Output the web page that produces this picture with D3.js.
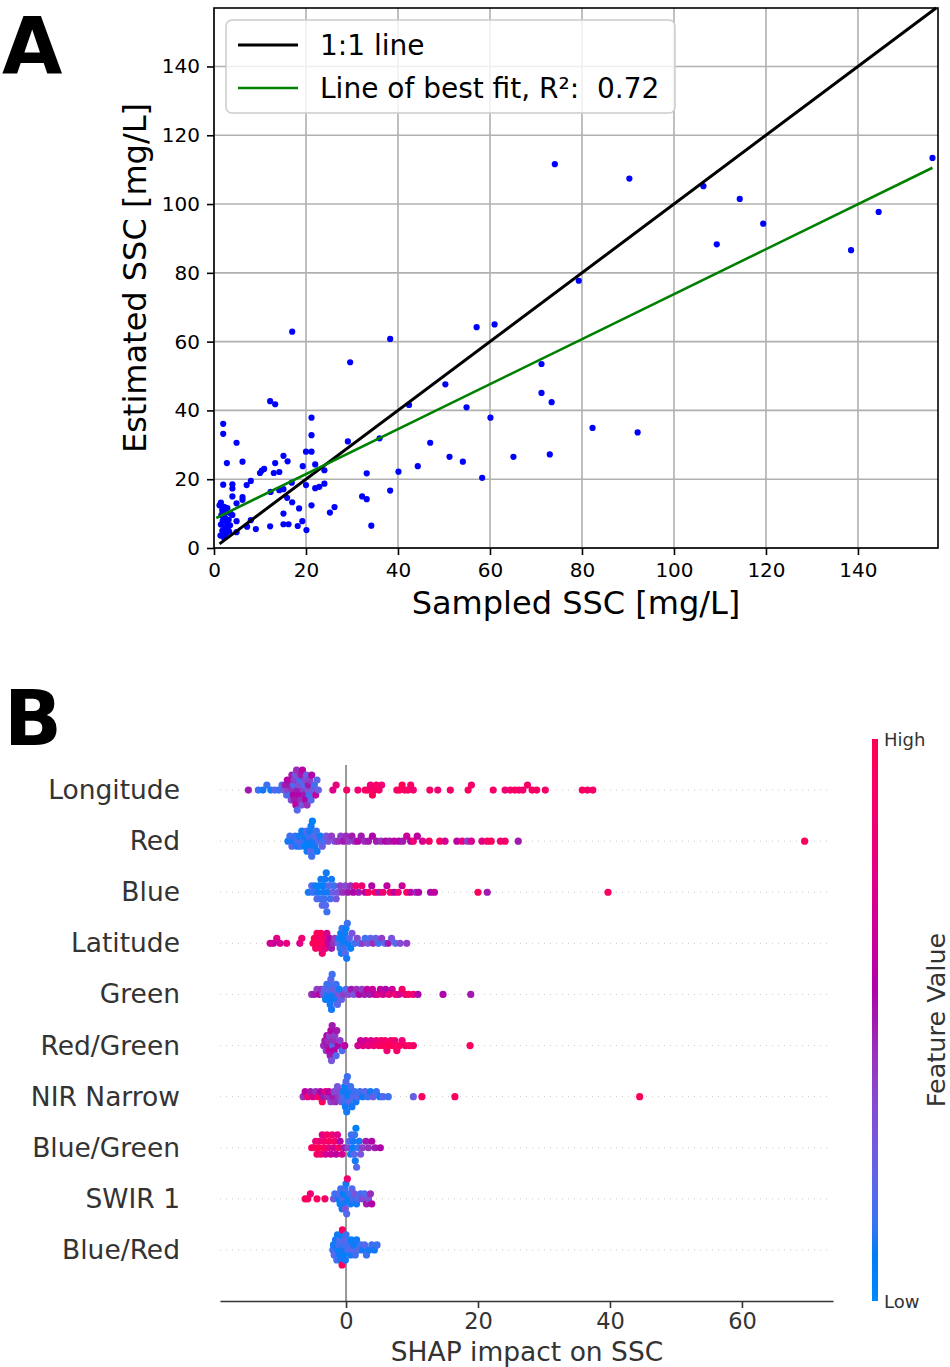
<!DOCTYPE html>
<html><head><meta charset="utf-8">
<script src="https://cdn.jsdelivr.net/npm/d3@7"></script>
<style>
body{margin:0;background:#fff}
svg{display:block}
text{font-family:"DejaVu Sans",sans-serif}
</style></head>
<body><svg id="c" width="950" height="1367"></svg>
<script>
// ---------------- Panel A data ----------------
const scatterPoints = [
[74.1,111.6],[90.3,107.4],[106.4,105.2],[114.3,101.5],[119.4,94.3],[109.3,88.3],[138.5,86.6],[144.5,97.7],[156.2,113.4],[79.3,77.7],
[71.2,53.5],[71.2,45.1],[73.4,42.4],[82.3,34.9],[92.1,33.6],
[17.0,62.9],[38.3,60.8],[57.1,64.2],[61.0,65.0],[29.6,54.0],[50.3,47.6],[12.2,42.7],[13.3,41.8],[42.4,41.6],[54.9,40.9],[60.1,37.9],
[2.0,36.1],[2.0,33.2],[21.2,37.9],[21.2,32.8],[4.9,30.6],[29.1,31.0],[36.0,31.9],[47.0,30.6],[20.0,28.0],[21.2,28.0],[15.1,26.8],[16.0,25.2],[6.2,25.1],[2.8,24.7],[13.3,24.7],[19.3,23.8],[22.0,24.3],[10.9,23.0],[10.4,22.5],[10.0,21.8],[13.0,21.8],[14.2,22.1],[24.0,22.6],[33.2,21.7],[40.1,22.2],[44.3,23.8],[51.2,26.5],[54.1,25.1],[65.1,26.5],[73.0,27.2],[58.3,20.4],
[2.0,18.4],[4.0,18.5],[4.0,17.3],[6.2,14.8],[6.2,14.0],[4.0,15.0],[7.1,18.3],[8.0,19.5],[12.3,16.3],[14.2,16.8],[15.1,17.1],[16.9,19.0],[20.0,18.3],[22.0,17.4],[22.9,17.8],[24.0,18.7],[32.2,15.0],[33.2,14.2],[38.3,16.7],[21.2,12.4],[25.2,10.3],[26.2,11.9],[34.2,6.5],[15.1,10.0],[20.1,5.2],[18.2,6.4],[19.2,7.8],[15.1,6.9],[16.2,6.9],[12.2,6.3],[9.1,5.5],[7.2,6.2],[8.0,8.1],[4.9,7.8],[4.9,4.6],[4.0,9.6],[4.9,13.0],[15.9,14.6],[17.0,13.3],[18.5,11.5],
[1.5,13.2],[2.2,12.0],[1.8,11.0],[2.6,10.4],[1.6,9.6],[2.4,8.8],[1.9,8.0],[2.8,7.4],[1.5,6.8],[2.3,6.0],[3.0,5.5],[1.8,5.0],[2.6,4.2],[1.4,3.6],[2.2,3.0],[3.2,8.2],[3.5,6.6],[3.3,4.8],[1.2,12.4],[2.9,11.6],[3.6,10.0]
];
const axisMaxA = [157.4, 157.0];
const xTicksA = [0,20,40,60,80,100,120,140];
const yTicksA = [0,20,40,60,80,100,120,140];
const oneToOneRange = [1.2, 157.0];
const fitRange = [0.5, 156.2];
const fitIntercept = 8.4;
const fitSlope = 0.654;
const fitR2 = "0.72";

// ---------------- Panel B data ----------------
const features = ["Longitude","Red","Blue","Latitude","Green","Red/Green","NIR Narrow","Blue/Green","SWIR 1","Blue/Red"];
const xTicksB = [0,20,40,60];
const xDomainB = [-19.1, 73.8];
// each entry: [SHAP value, normalised feature value (0 = low, 1 = high)]
const shapLongitude = [
[-14.8,.5],[-13.3,.15],[-12.6,.1],[-12.0,.15],[-11.4,.1],[-10.8,.2],[-10.2,.15],[-9.7,.2],
[-9.4,.3],[-9.2,.5],[-9.0,.2],[-8.9,.55],[-8.8,.4],[-8.6,.5],[-8.5,.15],[-8.4,.6],[-8.3,.35],[-8.2,.5],[-8.1,.45],[-8.0,.2],[-8.0,.55],[-7.9,.4],[-7.8,.5],[-7.7,.3],[-7.6,.6],[-7.5,.45],[-7.4,.2],[-7.3,.5],[-7.2,.35],[-7.1,.55],[-7.0,.15],[-6.9,.45],[-6.8,.5],[-6.7,.3],[-6.6,.6],[-6.5,.4],[-6.4,.2],[-6.3,.5],[-6.2,.35],[-6.1,.55],[-6.0,.25],[-5.9,.45],[-5.8,.3],[-5.7,.5],[-5.6,.15],[-5.5,.4],[-5.3,.2],[-5.2,.55],[-5.0,.3],[-4.8,.15],[-4.6,.6],[-4.4,.2],[-4.2,.25],
[-2.0,.75],[-1.5,.8],[0.1,.9],[1.8,.85],[2.9,.9],[3.3,.95],[3.7,.85],[4.0,1],[4.3,.9],[4.6,.95],[5.0,.9],[5.4,.85],[7.7,.9],[8.1,.95],[8.5,1],[8.9,.9],[9.4,.95],[9.8,.9],[10.2,.85],[12.7,.9],[13.9,.85],[15.8,.9],[18.5,.95],[19.0,.9],[22.3,.9],[24.1,.85],[24.9,.9],[25.6,.95],[26.2,.9],[26.8,.85],[27.5,.9],[28.2,.95],[28.9,.9],[30.2,.9],[35.8,.95],[36.6,.9],[37.4,.9]
];
const shapRed = [
[-8.8,.1],[-8.5,.15],[-8.2,.2],[-8.0,.1],[-7.7,.15],[-7.4,.1],[-7.3,.2],[-7.1,.1],[-6.9,.15],[-6.7,.1],[-6.5,.15],[-6.4,.1],[-6.2,.05],[-6.0,.2],[-5.9,.1],
[-5.8,.1],[-5.7,.15],[-5.6,.05],[-5.5,.1],[-5.4,.2],[-5.3,.1],[-5.2,.15],[-5.1,.05],[-5.0,.1],[-4.8,.2],[-4.7,.1],[-4.5,.15],[-4.4,.1],[-4.2,.2],[-3.9,.1],[-3.6,.25],[-3.4,.15],[-3.0,.3],
[-2.7,.3],[-2.2,.4],[-1.7,.35],[-1.2,.45],[-0.8,.4],[-0.4,.5],[0,.45],[0.4,.4],[0.9,.5],[1.3,.45],[1.8,.55],[2.3,.5],[2.8,.45],[3.4,.5],[4.0,.55],[4.6,.5],[5.3,.45],[6.0,.55],[6.6,.5],[7.3,.6],[8.0,.55],[8.6,.5],[9.2,.65],[9.8,.55],[10.2,.85],[10.8,.6],[11.6,.7],[12.6,.9],[14.2,.95],[15.0,.7],[16.8,.6],[17.6,.8],[18.4,.4],[19.0,.7],[20.6,.75],[21.4,.9],[22.0,.95],[23.4,.85],[24.1,.9],[26.1,.5],[69.5,.95]
];
const shapBlue = [
[-5.7,.1],[-5.2,.2],[-5.0,.15],[-4.7,.1],[-4.4,.2],[-4.3,.1],[-4.1,.05],[-3.9,.15],[-3.8,.1],[-3.6,.2],
[-3.5,.1],[-3.4,.05],[-3.3,.15],[-3.2,.1],[-3.1,.2],[-3.0,.1],[-2.9,.15],[-2.8,.1],[-2.6,.2],[-2.4,.15],[-2.2,.1],[-2.0,.25],[-1.8,.15],[-1.5,.3],
[-1.2,.3],[-0.9,.4],[-0.5,.45],[-0.1,.35],[0.3,.5],[0.7,.45],[1.1,.55],[1.5,.9],[1.9,.5],[2.4,.85],[2.9,.6],[3.4,.9],[3.9,.55],[4.4,.95],[5.0,.5],[5.6,.85],[6.2,.6],[6.7,.9],[7.3,.55],[7.9,.85],[8.5,.65],[9.2,.95],[9.8,.6],[10.6,.45],[11.0,.55],[12.8,.55],[13.4,.6],[20.0,.95],[21.4,.5],[39.7,.95]
];
const shapLatitude = [
[-11.5,.7],[-11.0,.65],[-10.5,.75],[-10.0,.7],[-9.0,.8],[-7.0,.75],[-6.7,.85],
[-5.0,.95],[-4.8,1],[-4.6,.9],[-4.4,.95],[-4.3,1],[-4.1,.9],[-3.9,.95],[-3.8,1],[-3.6,.85],[-3.5,.95],[-3.3,.9],[-3.1,.8],[-2.9,.7],[-2.7,.6],[-2.5,.55],[-2.2,.5],[-2.0,.45],[-1.7,.4],
[-1.2,.2],[-1.0,.1],[-0.9,.15],[-0.8,.05],[-0.7,.1],[-0.6,.15],[-0.5,.1],[-0.4,.05],[-0.3,.15],[-0.2,.1],[-0.1,.2],[0,.05],[0.1,.1],[0.2,.15],[0.3,.1],[0.5,.2],[0.7,.05],[0.9,.3],
[1.3,.15],[1.7,.35],[2.1,.2],[2.5,.4],[2.9,.15],[3.3,.3],[3.7,.2],[4.1,.45],[4.5,.25],[4.9,.15],[5.4,.4],[5.9,.2],[6.4,.5],[6.9,.3],[7.5,.2],[8.2,.35],[9.2,.4]
];
const shapGreen = [
[-5.2,.45],[-4.8,.5],[-4.4,.4],[-4.0,.55],[-3.7,.45],
[-3.5,.3],[-3.3,.2],[-3.1,.1],[-2.9,.15],[-2.8,.1],[-2.7,.2],[-2.6,.05],[-2.5,.15],[-2.4,.1],[-2.3,.2],[-2.2,.1],[-2.1,.15],[-2.0,.1],[-1.9,.25],[-1.7,.1],[-1.5,.15],[-1.3,.2],[-1.2,.3],[-1.0,.1],[-0.7,.25],
[-0.4,.4],[0,.2],[0.4,.35],[0.8,.5],[1.2,.3],[1.6,.45],[2.0,.55],[2.4,.4],[2.8,.5],[3.2,.6],[3.6,.5],[4.0,.65],[4.4,.55],[4.8,.75],[5.2,.6],[5.6,.7],[6.0,.55],[6.5,.8],[7.0,.65],[7.5,.85],[8.0,.7],[8.5,.9],[9.0,.8],[9.5,.95],[10.2,.85],[10.9,.55],[14.7,.55],[18.9,.5]
];
const shapRedGreen = [
[-3.4,.45],[-3.2,.5],[-3.0,.4],[-2.9,.55],[-2.8,.5],[-2.7,.45],[-2.6,.6],[-2.5,.4],[-2.4,.5],[-2.3,.55],[-2.2,.3],[-2.1,.5],[-2.0,.2],[-1.9,.45],[-1.8,.55],[-1.7,.4],[-1.5,.2],[-1.4,.5],[-1.2,.55],[-0.9,.4],[-0.6,.2],[-0.2,.6],
[1.8,.7],[2.2,.65],[2.6,.75],[3.0,.7],[3.4,.8],[3.8,.75],[4.2,.85],[4.6,.8],[5.0,.9],[5.3,.85],[5.6,.95],[5.9,.9],[6.2,.85],[6.5,1],[6.8,.9],[7.1,.95],[7.4,.85],[7.7,.9],[8.1,.95],[8.5,.85],[9.0,.9],[9.6,.95],[10.2,.9],[18.8,.95]
];
const shapNIR = [
[-6.5,.45],[-6.2,.6],[-5.8,.85],[-5.4,.5],[-5.0,.7],[-4.6,.45],[-4.2,.9],[-3.9,.55],[-3.6,.95],[-3.4,.5],[-3.1,.8],[-2.8,.45],[-2.6,.6],[-2.3,.4],[-2.0,.5],[-1.8,.35],[-1.6,.45],[-1.3,.3],[-1.1,.4],[-0.9,.35],[-0.7,.3],
[-0.5,.2],[-0.4,.1],[-0.3,.15],[-0.2,.05],[-0.1,.1],[0,.2],[0.1,.1],[0.2,.15],[0.3,.05],[0.4,.1],[0.5,.2],[0.7,.15],[0.9,.1],
[1.1,.2],[1.3,.15],[1.5,.1],[1.8,.2],[2.1,.15],[2.5,.1],[2.9,.2],[3.3,.15],[3.7,.1],[4.1,.25],[4.6,.15],[5.1,.1],[5.6,.2],[6.4,.15],[10.2,.25],[11.5,.95],[16.5,.95],[44.5,.95]
];
const shapBlueGreen = [
[-5.2,.9],[-4.9,.95],[-4.6,.8],[-4.4,.9],[-4.2,1],[-4.0,.85],[-3.8,.9],[-3.6,.75],[-3.4,.95],[-3.3,.85],[-3.1,.7],[-2.9,.9],[-2.7,.8],[-2.5,.95],[-2.3,.65],[-2.1,.85],[-1.9,.7],[-1.7,.9],[-1.5,.6],[-1.3,.75],[-1.1,.9],[-0.9,.55],[-0.6,.7],[-0.3,.5],
[0.3,.35],[0.5,.2],[0.7,.1],[0.8,.15],[1.0,.05],[1.1,.1],[1.2,.2],[1.3,.15],[1.4,.1],[1.5,.05],[1.6,.2],[1.8,.15],[2.0,.1],[2.2,.3],[2.5,.4],
[3.0,.5],[3.4,.45],[3.9,.55],[4.4,.5],[5.2,.55]
];
const shapSWIR1 = [
[-6.2,.9],[-5.8,.95],[-5.4,.85],[-4.4,.95],[-3.2,.9],
[-1.9,.3],[-1.7,.15],[-1.2,.1],[-1.1,.2],[-0.9,.05],[-0.8,.15],[-0.6,.1],[-0.5,.2],[-0.4,.05],[-0.3,.1],[-0.2,.15],[-0.1,.3],[0,.1],[0.1,.2],[0.2,.85],[0.3,.05],[0.5,.15],[0.7,.1],[0.9,.2],
[1.1,.15],[1.3,.3],[1.6,.1],[1.9,.2],[2.2,.15],[2.5,.35],[2.8,.2],[3.1,.5],[3.4,.3],[3.7,.45],[3.9,.55]
];
const shapBlueRed = [
[-2.0,.15],[-1.9,.1],[-1.8,.2],[-1.6,.1],[-1.4,.15],[-1.3,.1],[-1.2,.05],[-1.1,.15],[-1.0,.1],[-0.9,.2],[-0.8,.1],[-0.7,.05],[-0.6,.95],[-0.55,.9],
[-0.5,.1],[-0.4,.15],[-0.3,.05],[-0.2,.2],[-0.1,.1],[0,.15],
[0.3,.2],[0.5,.15],[0.7,.1],[0.8,.05],[1.0,.2],[1.2,.1],[1.4,.15],[1.6,.1],[1.9,.2],[2.2,.15],[2.5,.1],[2.8,.2],[3.1,.15],[3.5,.1],[3.9,.15],[4.3,.1],[4.7,.15]
];
const shapRows = [shapLongitude, shapRed, shapBlue, shapLatitude, shapGreen, shapRedGreen, shapNIR, shapBlueGreen, shapSWIR1, shapBlueRed];

// ---------------- drawing ----------------
const svg = d3.select("#c");
const FONT = "DejaVu Sans";

// ===== Panel A =====
const xA = d3.scaleLinear([0, axisMaxA[0]], [214, 938]);
const yA = d3.scaleLinear([0, axisMaxA[1]], [548, 8]);
const gA = svg.append("g");

gA.append("g").selectAll("line").data(xTicksA).join("line")
  .attr("x1", d => xA(d)).attr("x2", d => xA(d)).attr("y1", yA.range()[0]).attr("y2", yA.range()[1])
  .attr("stroke", "#b0b0b0").attr("stroke-width", 1.6);
gA.append("g").selectAll("line").data(yTicksA).join("line")
  .attr("y1", d => yA(d)).attr("y2", d => yA(d)).attr("x1", xA.range()[0]).attr("x2", xA.range()[1])
  .attr("stroke", "#b0b0b0").attr("stroke-width", 1.6);

gA.append("g").selectAll("circle").data(scatterPoints).join("circle")
  .attr("cx", d => xA(d[0])).attr("cy", d => yA(d[1])).attr("r", 3.1).attr("fill", "#0000ff");

const lineA = d3.line().x(d => xA(d[0])).y(d => yA(d[1]));
gA.append("path").datum(oneToOneRange.map(v => [v, v])).attr("d", lineA)
  .attr("stroke", "#000").attr("stroke-width", 3).attr("fill", "none");
gA.append("path").datum(fitRange.map(v => [v, fitIntercept + fitSlope * v])).attr("d", lineA)
  .attr("stroke", "#008000").attr("stroke-width", 2.6).attr("fill", "none");

gA.append("rect").attr("x", 214).attr("y", 8).attr("width", 938 - 214).attr("height", 540)
  .attr("fill", "none").attr("stroke", "#000").attr("stroke-width", 1.6);

const axA_x = gA.append("g").attr("transform", "translate(0,548)")
  .call(d3.axisBottom(xA).tickValues(xTicksA).tickSize(7).tickSizeOuter(0).tickPadding(8).tickFormat(d3.format("d")));
const axA_y = gA.append("g").attr("transform", "translate(214,0)")
  .call(d3.axisLeft(yA).tickValues(yTicksA).tickSize(7).tickSizeOuter(0).tickPadding(7).tickFormat(d3.format("d")));
[axA_x, axA_y].forEach(a => {
  a.select(".domain").remove();
  a.selectAll(".tick line").attr("stroke", "#000").attr("stroke-width", 1.6);
  a.selectAll(".tick text").attr("font-size", 20).attr("font-family", FONT).attr("fill", "#000");
});

gA.append("text").attr("x", 576).attr("y", 614).attr("text-anchor", "middle")
  .attr("font-size", 32).text("Sampled SSC [mg/L]");
gA.append("text").attr("transform", "translate(146,278) rotate(-90)").attr("text-anchor", "middle")
  .attr("font-size", 32).text("Estimated SSC [mg/L]");

const leg = gA.append("g");
leg.append("rect").attr("x", 226).attr("y", 20).attr("width", 449).attr("height", 93).attr("rx", 6)
  .attr("fill", "#fff").attr("fill-opacity", 0.8).attr("stroke", "#cccccc").attr("stroke-width", 1.5);
const legItems = [{label: "1:1 line", color: "#000", w: 3}, {label: "Line of best fit, R\u00b2:  " + fitR2, color: "#008000", w: 2.6}];
legItems.forEach((it, i) => {
  const cy = 45 + i * 43;
  leg.append("line").attr("x1", 238).attr("x2", 298).attr("y1", cy).attr("y2", cy)
    .attr("stroke", it.color).attr("stroke-width", it.w);
  leg.append("text").attr("x", 320).attr("y", cy + 10).attr("font-size", 28)
    .style("white-space", "pre").text(it.label);
});

svg.append("text").attr("x", 2).attr("y", 73).attr("font-size", 78).attr("font-weight", "bold").text("A");
svg.append("text").attr("x", 4).attr("y", 745).attr("font-size", 76).attr("font-weight", "bold").text("B");

// ===== Panel B =====
const xB = d3.scaleLinear(xDomainB, [220, 833]);
const nF = features.length;
const yB = d3.scaleLinear([-1, nF], [1301, 739]);
const rowY = i => yB(nF - 1 - i);
const gB = svg.append("g");

function shapColor(t) {
  const l = t < 0.5 ? 54 + (40 - 54) * (t / 0.5) : 40 + (54 - 40) * ((t - 0.5) / 0.5);
  const c = 70 + 20 * t;
  const h = (4.6588 + (0.35470565 + 2 * Math.PI - 4.6588) * t) * 180 / Math.PI;
  return d3.hcl(h, c, l).formatHex();
}

gB.append("g").selectAll("line").data(features).join("line")
  .attr("x1", 220).attr("x2", 830).attr("y1", (d, i) => rowY(i)).attr("y2", (d, i) => rowY(i))
  .attr("stroke", "#cccccc").attr("stroke-width", 1).attr("stroke-dasharray", "1,5");

gB.append("line").attr("x1", xB(0)).attr("x2", xB(0)).attr("y1", 765).attr("y2", 1301)
  .attr("stroke", "#999999").attr("stroke-width", 2);

const binW = 5;
shapRows.forEach((rows, i) => {
  const pts = rows.map(d => ({s: d[0], v: d[1], px: xB(d[0])})).sort((a, b) => a.s - b.s);
  const counts = {};
  pts.forEach(p => {
    const b = Math.round(p.px / binW);
    const layer = counts[b] || 0;
    counts[b] = layer + 1;
    p.k = Math.ceil(layer / 2) * ((layer % 2) * 2 - 1);
  });
  const maxK = d3.max(pts, p => Math.abs(p.k)) || 1;
  const step = Math.min(6.5, 20 / maxK);
  gB.append("g").selectAll("circle").data(pts).join("circle")
    .attr("cx", p => p.px).attr("cy", p => rowY(i) - p.k * step)
    .attr("r", 3.6).attr("fill", p => shapColor(p.v));
});

gB.append("g").selectAll("text").data(features).join("text")
  .attr("x", 180).attr("y", (d, i) => rowY(i) + 9).attr("text-anchor", "end")
  .attr("font-size", 26.5).attr("fill", "#333333").text(d => d);

const axB = gB.append("g").attr("transform", "translate(0,1301)")
  .call(d3.axisBottom(xB).tickValues(xTicksB).tickSize(7).tickSizeOuter(0).tickPadding(5));
axB.select(".domain").attr("stroke", "#333333").attr("stroke-width", 1.6);
axB.selectAll(".tick line").attr("stroke", "#333333").attr("stroke-width", 1.6);
axB.selectAll(".tick text").attr("font-size", 22.5).attr("font-family", FONT).attr("fill", "#333333");
gB.append("text").attr("x", 527).attr("y", 1361).attr("text-anchor", "middle")
  .attr("font-size", 26.5).attr("fill", "#333333").text("SHAP impact on SSC");

const defs = svg.append("defs");
const grad = defs.append("linearGradient").attr("id", "cbar").attr("x1", 0).attr("y1", 1).attr("x2", 0).attr("y2", 0);
d3.range(0, 1.0001, 0.02).forEach(t => grad.append("stop").attr("offset", t).attr("stop-color", shapColor(t)));
gB.append("rect").attr("x", 872).attr("y", 739).attr("width", 6).attr("height", 1301 - 739).attr("fill", "url(#cbar)");
gB.append("text").attr("x", 884).attr("y", 746).attr("font-size", 18).attr("fill", "#333333").text("High");
gB.append("text").attr("x", 884).attr("y", 1308).attr("font-size", 18).attr("fill", "#333333").text("Low");
gB.append("text").attr("transform", "translate(945,1020) rotate(-90)").attr("text-anchor", "middle")
  .attr("font-size", 25.5).attr("fill", "#333333").text("Feature Value");
</script>
</body></html>
